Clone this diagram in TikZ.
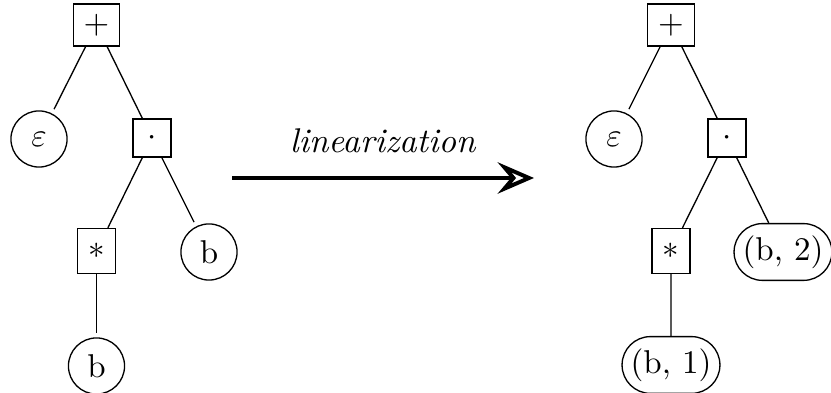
\documentclass[tikz,border=0pt]{standalone}
\usetikzlibrary{arrows.meta,shapes.misc}
\begin{document}
\begin{tikzpicture}[x=0.303pt,y=-0.303pt,
  every node/.style={line width=0.4pt},
  opbox/.style={draw,rectangle,inner sep=0pt},
  plusbox/.style={opbox,minimum width=14.1pt,minimum height=12.7pt},
  dotbox/.style={opbox,minimum width=11.5pt,minimum height=11.5pt},
  starbox/.style={opbox,minimum width=11.5pt,minimum height=13.6pt},
  leaf/.style={draw,circle,minimum size=17pt,inner sep=0pt,outer sep=1.6pt},
  pairleaf/.style={draw,rounded rectangle,minimum height=17.2pt,minimum width=28.8pt,inner xsep=1pt,inner ysep=0pt},
  treeedge/.style={line width=0.4pt},
  ]
\useasboundingbox (0,0) rectangle (831,393);

% syntax tree before linearization
\node[plusbox] (Lplus) at (96.5,25) {$+$};
\node[leaf] (Leps) at (39,139) {$\varepsilon$};
\node[dotbox] (Ldot) at (152,138) {$\cdot$};
\node[starbox] (Lstar) at (96.5,251) {$*$};
\node[leaf] (Lbr) at (209,252) {b};
\node[leaf] (Lbb) at (96.5,366) {b};

\draw[treeedge] (Lplus) -- (Leps);
\draw[treeedge] (Lplus) -- (Ldot);
\draw[treeedge] (Ldot) -- (Lstar);
\draw[treeedge] (Ldot) -- (Lbr);
\draw[treeedge] (Lstar) -- (Lbb);

% linearization arrow
\coordinate (Astart) at (232,178);
\coordinate (Aend) at (534,178);
\draw[line width=1.2pt,-{Stealth[open,length=11pt,width=9.5pt,inset=4pt]}]
  (Astart) -- node[above=4pt,font=\fontsize{10.4pt}{12pt}\selectfont] {\textit{linearization}} (Aend);

% syntax tree after linearization
\node[plusbox] (Rplus) at (671,25) {$+$};
\node[leaf] (Reps) at (614,139) {$\varepsilon$};
\node[dotbox] (Rdot) at (727,138) {$\cdot$};
\node[starbox] (Rstar) at (671,251) {$*$};
\node[pairleaf] (Rb2) at (783,252) {(b, 2)};
\node[pairleaf] (Rb1) at (671,365) {(b, 1)};

\draw[treeedge] (Rplus) -- (Reps);
\draw[treeedge] (Rplus) -- (Rdot);
\draw[treeedge] (Rdot) -- (Rstar);
\draw[treeedge] (Rdot) -- (Rb2);
\draw[treeedge] (Rstar) -- (Rb1);
\end{tikzpicture}
\end{document}
